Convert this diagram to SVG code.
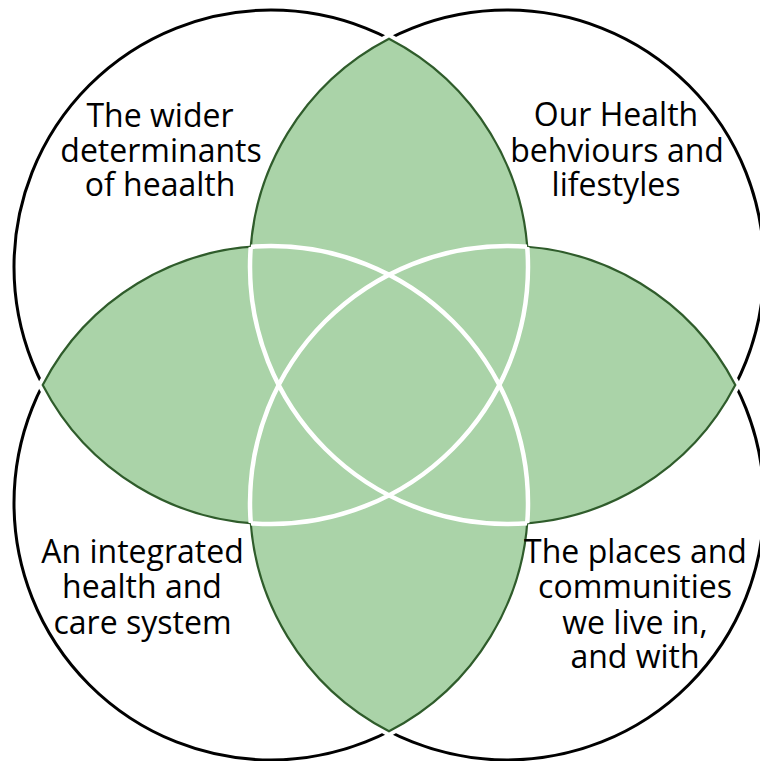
<svg xmlns="http://www.w3.org/2000/svg" width="760" height="761" viewBox="0 0 760 761">
<defs>
<style>
.ring{fill:none;stroke:#000;stroke-width:3}
.halo{fill:none;stroke:#fff;stroke-width:10}
.fill{fill:#aad3a8;stroke:none}
.edge{fill:none;stroke:#2f5c2b;stroke-width:2.2}
.inner{fill:none;stroke:#fff;stroke-width:4.5}
.lbl{font-family:"Open Sans","Noto Sans","Liberation Sans",sans-serif;font-size:32px;fill:#000;text-anchor:middle}
</style>
<path id="lTop" d="M389,38.7 A257,257 0 0 1 389,495.3 A257,257 0 0 1 389,38.7 Z"/>
<path id="lLeft" d="M42.7,385 A257,257 0 0 1 499.3,385 A257,257 0 0 1 42.7,385 Z"/>
<path id="lRight" d="M278.7,385 A257,257 0 0 1 735.3,385 A257,257 0 0 1 278.7,385 Z"/>
<path id="lBot" d="M389,274.7 A257,257 0 0 1 389,731.3 A257,257 0 0 1 389,274.7 Z"/>
<path id="lD1" d="M527.2,246.8 A257,257 0 0 1 250.8,523.2 A257,257 0 0 1 527.2,246.8 Z"/>
<path id="lD2" d="M527.2,523.2 A257,257 0 0 1 250.8,246.8 A257,257 0 0 1 527.2,523.2 Z"/>
<clipPath id="cTL"><use href="#lD2"/><use href="#lRight"/><use href="#lBot"/></clipPath>
<clipPath id="cTR"><use href="#lLeft"/><use href="#lD1"/><use href="#lBot"/></clipPath>
<clipPath id="cBL"><use href="#lTop"/><use href="#lD1"/><use href="#lRight"/></clipPath>
<clipPath id="cBR"><use href="#lTop"/><use href="#lLeft"/><use href="#lD2"/></clipPath>
</defs>
<g id="circles">
<circle id="cTLr" class="ring" cx="271" cy="267" r="257"/>
<circle id="cTRr" class="ring" cx="507" cy="267" r="257"/>
<circle id="cBLr" class="ring" cx="271" cy="503" r="257"/>
<circle id="cBRr" class="ring" cx="507" cy="503" r="257"/>
</g>
<g id="overlaps">
<use href="#lTop" class="halo"/><use href="#lLeft" class="halo"/><use href="#lRight" class="halo"/><use href="#lBot" class="halo"/>
<use href="#lTop" class="fill"/><use href="#lLeft" class="fill"/><use href="#lRight" class="fill"/><use href="#lBot" class="fill"/><use href="#lD1" class="fill"/><use href="#lD2" class="fill"/>
<use href="#lTop" class="edge"/><use href="#lLeft" class="edge"/><use href="#lRight" class="edge"/><use href="#lBot" class="edge"/>
<circle class="inner" cx="271" cy="267" r="257" clip-path="url(#cTL)"/>
<circle class="inner" cx="507" cy="267" r="257" clip-path="url(#cTR)"/>
<circle class="inner" cx="271" cy="503" r="257" clip-path="url(#cBL)"/>
<circle class="inner" cx="507" cy="503" r="257" clip-path="url(#cBR)"/>
</g>
<g id="node-tl">
<text class="lbl"><tspan x="160" y="127">The wider</tspan><tspan x="161" y="162">determinants</tspan><tspan x="160" y="196">of heaalth</tspan></text>
</g>
<g id="node-tr">
<text class="lbl"><tspan x="616" y="126">Our Health</tspan><tspan x="617" y="162">behviours and</tspan><tspan x="616" y="196">lifestyles</tspan></text>
</g>
<g id="node-bl">
<text class="lbl"><tspan x="142.5" y="563">An integrated</tspan><tspan x="142" y="598">health and</tspan><tspan x="142.5" y="634">care system</tspan></text>
</g>
<g id="node-br">
<text class="lbl"><tspan x="635.5" y="563">The places and</tspan><tspan x="635" y="598">communities</tspan><tspan x="635" y="634">we live in,</tspan><tspan x="635" y="668">and with</tspan></text>
</g>
</svg>
